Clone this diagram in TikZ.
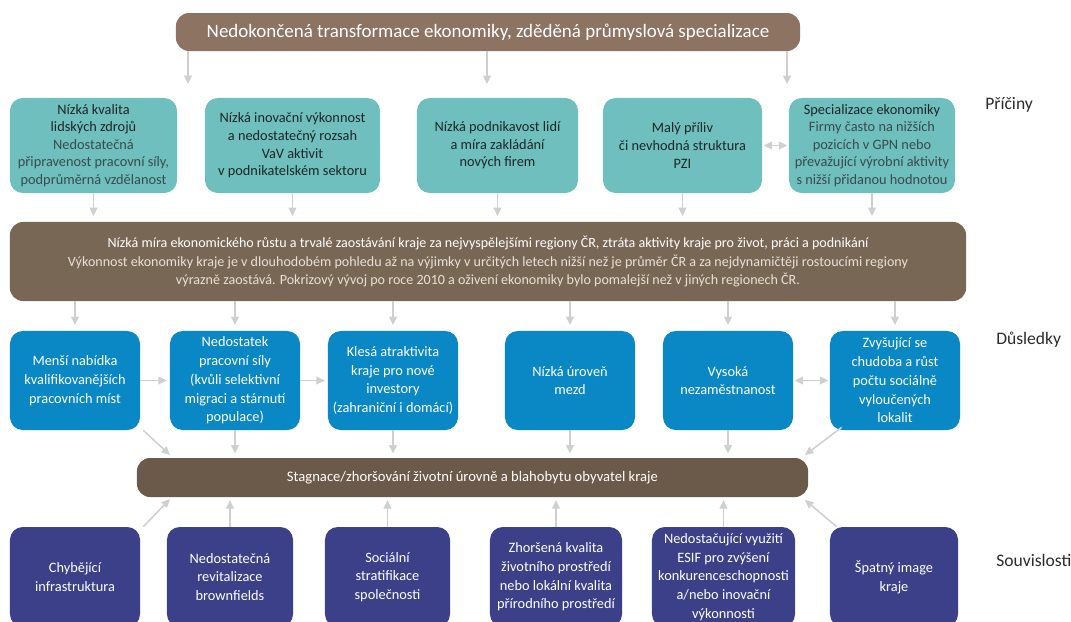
\documentclass[tikz,border=0pt]{standalone}
\usepackage{fontspec}
\setmainfont{Carlito}
\usepackage{xcolor}
\usetikzlibrary{arrows.meta}

\definecolor{topbrown}{HTML}{8C7362}
\definecolor{midbrown}{HTML}{796756}
\definecolor{lowbrown}{HTML}{6B5949}
\definecolor{causeteal}{HTML}{6EBFBE}
\definecolor{causetext}{HTML}{1E2626}
\definecolor{causesub}{HTML}{3A4B4B}
\definecolor{effectblue}{HTML}{0A87C5}
\definecolor{contextnavy}{HTML}{3B4088}
\definecolor{arrowgrey}{HTML}{CFCFCF}
\definecolor{labeltext}{HTML}{2B2B2B}
\definecolor{barsub}{HTML}{E8E0D8}

\tikzset{
  box/.style={rounded corners=0.32cm, align=center, inner sep=2pt},
  cause/.style={box, fill=causeteal, text=causetext, minimum height=2.375cm,
                font=\fontsize{10.2}{12.5}\selectfont},
  effect/.style={box, fill=effectblue, text=white, minimum height=2.475cm, minimum width=3.25cm,
                 font=\fontsize{10.2}{13.3}\selectfont},
  context/.style={box, fill=contextnavy, text=white, minimum height=2.5cm,
                  font=\fontsize{10.2}{13.3}\selectfont},
  bar/.style={rounded corners=0.33cm, align=center, text=white, inner sep=2pt},
  arr/.style={draw=arrowgrey, line width=1.1pt, -{Triangle[length=6pt,width=5.5pt]}},
  both/.style={draw=arrowgrey, line width=1.1pt, {Triangle[length=6pt,width=5.5pt]}-{Triangle[length=6pt,width=5.5pt]}},
  sidelabel/.style={anchor=west, inner sep=0pt, text=labeltext, font=\fontsize{12.5}{14}\selectfont}
}

\begin{document}
\begin{tikzpicture}[x=0.025cm,y=-0.025cm]
  \path[use as bounding box, clip] (0,0) rectangle (1071,621);

  % top
  \node[bar, fill=topbrown, minimum width=15.6cm, minimum height=0.95cm,
        font=\fontsize{13.5}{15}\selectfont] (top) at (488,32)
        {Nedokončená transformace ekonomiky, zděděná průmyslová specializace};

  % causes
  \node[cause, minimum width=4.175cm] (c1) at (93.5,145.5)
        {Nízká kvalita\\lidských zdrojů\\\textcolor{causesub}{Nedostatečná}\\
         \textcolor{causesub}{připravenost pracovní síly,}\\\textcolor{causesub}{podprůměrná vzdělanost}};
  \node[cause, minimum width=4.375cm] (c2) at (292.5,145.5)
        {Nízká inovační výkonnost\\a nedostatečný rozsah\\VaV aktivit\\v podnikatelském sektoru};
  \node[cause, minimum width=4.025cm] (c3) at (497.5,145.5)
        {Nízká podnikavost lidí\\a míra zakládání\\nových firem};
  \node[cause, minimum width=3.975cm] (c4) at (682.5,145.5)
        {Malý příliv\\či nevhodná struktura\\PZI};
  \node[cause, minimum width=4.15cm] (c5) at (872,145.5)
        {Specializace ekonomiky\\\textcolor{causesub}{Firmy často na nižších}\\
         \textcolor{causesub}{pozicích v GPN nebo}\\\textcolor{causesub}{převažující výrobní aktivity}\\
         \textcolor{causesub}{s nižší přidanou hodnotou}};

  % main outcome
  \node[bar, fill=midbrown, minimum width=23.9cm, minimum height=1.975cm,
        font=\fontsize{10}{13}\selectfont] (big) at (488,261.5)
        {Nízká míra ekonomického růstu a trvalé zaostávání kraje za nejvyspělejšími regiony ČR, ztráta aktivity kraje pro život, práci a podnikání\\
         \textcolor{barsub}{Výkonnost ekonomiky kraje je v dlouhodobém pohledu až na výjimky v určitých letech nižší než je průměr ČR a za nejdynamičtěji rostoucími regiony}\\
         \textcolor{barsub}{výrazně zaostává. Pokrizový vývoj po roce 2010 a oživení ekonomiky bylo pomalejší než v jiných regionech ČR.}};

  % effects
  \node[effect] (d1) at (75,380.5) {Menší nabídka\\kvalifikovanějších\\pracovních míst};
  \node[effect] (d2) at (235,380.5) {Nedostatek\\pracovní síly\\(kvůli selektivní\\migraci a stárnutí\\populace)};
  \node[effect] (d3) at (393,380.5) {Klesá atraktivita\\kraje pro nové\\investory\\(zahraniční i domácí)};
  \node[effect] (d4) at (570,380.5) {Nízká úroveň\\mezd};
  \node[effect] (d5) at (728,380.5) {Vysoká\\nezaměstnanost};
  \node[effect] (d6) at (895,380.5) {Zvyšující se\\chudoba a růst\\počtu sociálně\\vyloučených\\lokalit};

  \node[bar, fill=lowbrown, minimum width=16.775cm, minimum height=0.975cm,
        font=\fontsize{10.4}{12}\selectfont] (low) at (472.5,477.5)
        {Stagnace/zhoršování životní úrovně a blahobytu obyvatel kraje};

  % context
  \node[context, minimum width=3.25cm] (s1) at (75,577) {Chybějící\\infrastruktura};
  \node[context, minimum width=3.15cm] (s2) at (230,577) {Nedostatečná\\revitalizace\\brownfields};
  \node[context, minimum width=3.125cm] (s3) at (387.5,577) {Sociální\\stratifikace\\společnosti};
  \node[context, minimum width=3.3cm] (s4) at (556,577) {Zhoršená kvalita\\životního prostředí\\nebo lokální kvalita\\přírodního prostředí};
  \node[context, minimum width=3.575cm] (s5) at (723.5,577) {Nedostačující využití\\ESIF pro zvýšení\\konkurenceschopnosti\\a/nebo inovační\\výkonnosti};
  \node[context, minimum width=3.2cm] (s6) at (894,577) {Špatný image\\kraje};

  % side labels
  \node[sidelabel] (lc) at (985,105) {Příčiny};
  \node[sidelabel] (ld) at (996,340) {Důsledky};
  \node[sidelabel] (ls) at (996,560) {Souvislosti};

  % arrows top -> causes
  \coordinate (a1) at (188,84);
  \coordinate (a2) at (487,84);
  \coordinate (a3) at (787,84);
  \foreach \a in {a1,a2,a3}
    \draw[arr] (top.south -| \a) -- (\a);

  % causes -> main
  \foreach \c in {c1,c2,c3,c4,c5}
    \draw[arr, shorten >=4pt] (\c.south) -- (\c.south |- big.north);
  \draw[both, shorten <=1pt, shorten >=1pt] (c4.east) -- (c5.west);

  % main -> effects
  \foreach \d in {d1,d2,d3,d4,d5,d6}
    \draw[arr, shorten >=4pt] (\d.north |- big.south) -- (\d.north);
  \draw[arr, shorten >=2pt] (d1.east) -- (d2.west);
  \draw[arr, shorten >=2pt] (d2.east) -- (d3.west);
  \draw[both, shorten <=1pt, shorten >=1pt] (d5.east) -- (d6.west);

  % effects -> low
  \coordinate (e1) at (170,455);
  \coordinate (e6) at (805,455);
  \draw[arr] (d1.south east) ++(3,0) -- (e1);
  \draw[arr] (d6.south west) ++(12,-3) -- (e6);
  \foreach \d in {d2,d3,d4,d5}
    \draw[arr, shorten >=3pt] (\d.south) -- (\d.south |- low.north);

  % context -> low
  \coordinate (f1) at (170,499);
  \coordinate (f6) at (805,500);
  \draw[arr] (s1.north east) ++(3,0) -- (f1);
  \draw[arr] (s6.north west) ++(7,0) -- (f6);
  \foreach \s in {s2,s3,s4,s5}
    \draw[arr, shorten >=2pt] (\s.north) -- (\s.north |- low.south);
\end{tikzpicture}
\end{document}
